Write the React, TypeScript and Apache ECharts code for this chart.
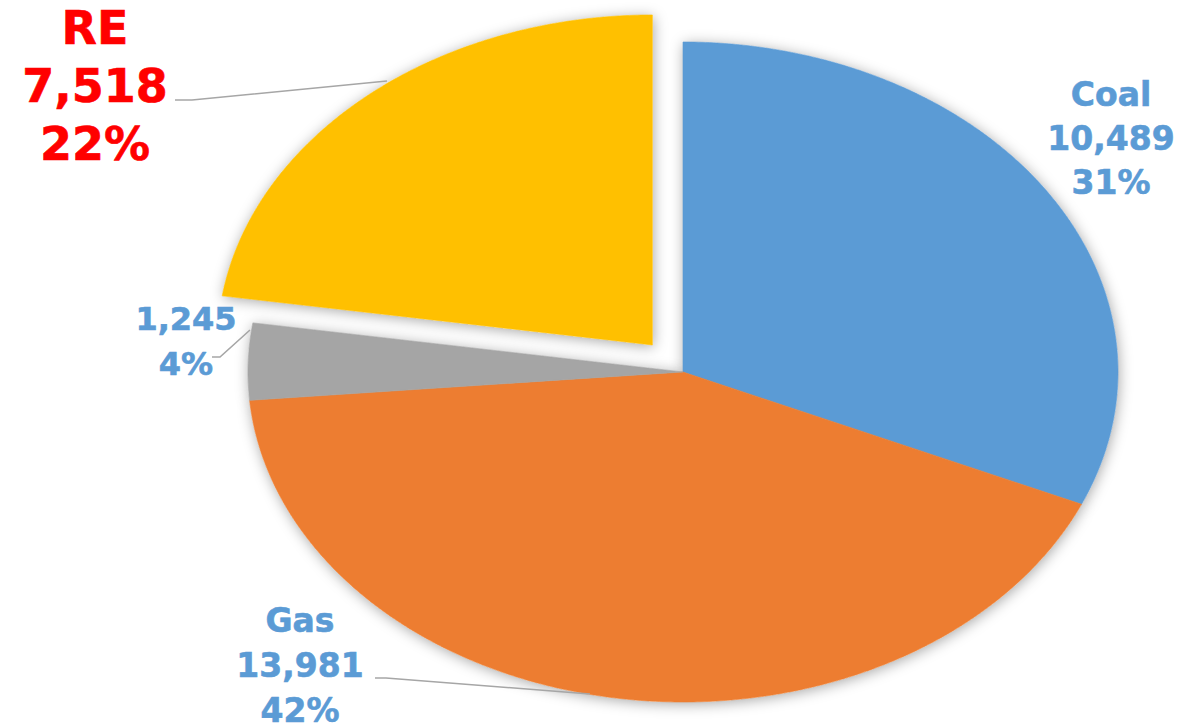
import { useEffect, useRef } from 'react';
import * as echarts from 'echarts';

// ---- data ----
const categories = ['Coal', 'Gas', 'Other', 'RE'];
const values = [10489, 13981, 1245, 7518];
const percentLabels = ['31%', '42%', '4%', '22%'];
const showCategory = [true, true, false, true];

// ---- styles / layout ----
const explodeRatio = [0, 0, 0, 0.108];
const sliceColors = ['#5B9BD5', '#ED7D31', '#A5A5A5', '#FFC000'];
const labelColors = ['#5B9BD5', '#5B9BD5', '#5B9BD5', '#FF0000'];
const pieLayout = { cx: 683, cy: 372, rx: 435, ry: 330 };
const labelLayout: { x: number; y: number; size: number; lh: number; line: number[][] | null }[] = [
  { x: 1111, y: 138, size: 33, lh: 44, line: null },
  { x: 300, y: 665, size: 33, lh: 45, line: [[375, 678], [386, 678], [590, 694]] },
  { x: 186, y: 341, size: 32, lh: 45, line: [[212, 357], [220, 357], [250, 330]] },
  { x: 95, y: 86, size: 46, lh: 58, line: [[175, 100], [192, 100], [387, 81]] },
];

export default function App() {
  const ref = useRef<HTMLDivElement>(null);
  useEffect(() => {
    if (!ref.current) return;
    const chart = echarts.init(ref.current, undefined, { renderer: 'svg' });
    const total = values.reduce((a, b) => a + b, 0);
    const { rx, ry } = pieLayout;

    const renderItem = (params: any, api: any) => {
      const i = params.dataIndex;
      const v = api.value(0);
      let before = 0;
      for (let k = 0; k < i; k++) before += values[k];
      const a0 = Math.PI / 2 - (before / total) * 2 * Math.PI;
      const a1 = a0 - (v / total) * 2 * Math.PI;
      const mid = (a0 + a1) / 2;
      const ox = Math.cos(mid) * explodeRatio[i] * rx;
      const oy = -Math.sin(mid) * explodeRatio[i] * ry;
      const cx = pieLayout.cx + ox;
      const cy = pieLayout.cy + oy;
      const pts: number[][] = [[cx, cy]];
      const steps = Math.max(2, Math.ceil((a0 - a1) / (Math.PI / 360)));
      for (let s = 0; s <= steps; s++) {
        const a = a0 - ((a0 - a1) * s) / steps;
        pts.push([cx + rx * Math.cos(a), cy - ry * Math.sin(a)]);
      }
      const lab = labelLayout[i];
      const lines: string[] = [];
      if (showCategory[i]) lines.push(categories[i]);
      lines.push(values[i].toLocaleString('en-US'));
      lines.push(percentLabels[i]);
      const children: any[] = [
        {
          type: 'polygon',
          z2: 0,
          shape: { points: pts },
          style: {
            fill: '#ffffff',
            shadowBlur: 14,
            shadowColor: 'rgba(0,0,0,0.35)',
            shadowOffsetX: 1,
            shadowOffsetY: 2,
          },
        },
        {
          type: 'polygon',
          z2: 10,
          shape: { points: pts },
          style: { fill: sliceColors[i], stroke: sliceColors[i], lineWidth: 0.6 },
        },
      ];
      const n = lines.length;
      lines.forEach((t, k) => {
        children.push({
          type: 'text',
          z2: 30,
          style: {
            text: t,
            x: lab.x,
            y: lab.y + (k - (n - 1) / 2) * lab.lh,
            fill: labelColors[i],
            stroke: labelColors[i],
            lineWidth: 0.6,
            fontSize: lab.size,
            fontWeight: 'bold',
            fontFamily: 'DejaVu Sans',
            align: 'center',
            verticalAlign: 'middle',
            lineHeight: lab.size,
          },
        });
      });
      if (lab.line) {
        children.push({
          type: 'polyline',
          z2: 20,
          shape: { points: lab.line },
          style: { stroke: '#A6A6A6', lineWidth: 1.6, fill: 'none' },
        });
      }
      return { type: 'group', children };
    };

    chart.setOption({
      animation: false,
      backgroundColor: '#ffffff',
      series: [
        {
          type: 'custom',
          coordinateSystem: 'none',
          silent: true,
          renderItem,
          data: values,
        },
      ],
    });
    return () => chart.dispose();
  }, []);
  return (
    <div
      ref={ref}
      style={{ position: 'fixed', left: 0, top: 0, width: 1204, height: 728 }}
    />
  );
}
